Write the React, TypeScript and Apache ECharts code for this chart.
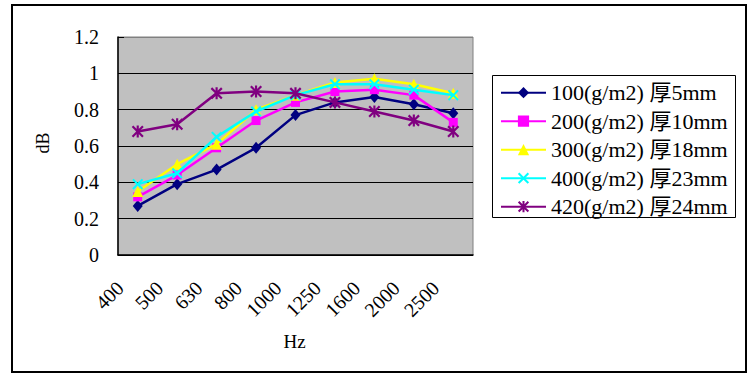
import React, { useEffect, useRef } from "react";
import * as echarts from "echarts";

const categories = ["400", "500", "630", "800", "1000", "1250", "1600", "2000", "2500"];
const seriesNames = [
  "100(g/m2) 厚5mm",
  "200(g/m2) 厚10mm",
  "300(g/m2) 厚18mm",
  "400(g/m2) 厚23mm",
  "420(g/m2) 厚24mm",
];
const s100 = [0.27, 0.39, 0.47, 0.59, 0.77, 0.84, 0.87, 0.83, 0.78];
const s200 = [0.32, 0.44, 0.59, 0.74, 0.84, 0.9, 0.91, 0.88, 0.73];
const s300 = [0.35, 0.5, 0.61, 0.8, 0.88, 0.95, 0.97, 0.94, 0.89];
const s400 = [0.39, 0.45, 0.65, 0.79, 0.88, 0.94, 0.94, 0.91, 0.88];
const s420 = [0.68, 0.72, 0.89, 0.9, 0.89, 0.84, 0.79, 0.74, 0.68];
const yMin = 0;
const yMax = 1.2;
const yStep = 0.2;

const FONT = "'Liberation Serif', 'Noto Sans CJK SC', serif";

const X_PATH =
  "path://M0,1.3 L1.3,0 L5,3.7 L8.7,0 L10,1.3 L6.3,5 L10,8.7 L8.7,10 L5,6.3 L1.3,10 L0,8.7 L3.7,5 Z";
const STAR_PATH =
  X_PATH + " M4.1,0 L5.9,0 L5.9,10 L4.1,10 Z";

export default function App() {
  const ref = useRef<HTMLDivElement>(null);
  useEffect(() => {
    document.body.style.margin = "0";
    if (!ref.current) return;
    const chart = echarts.init(ref.current, null, { renderer: "svg" });
    const dataSets = [s100, s200, s300, s400, s420];
    const colors = ["#000080", "#FF00FF", "#FFFF00", "#00FFFF", "#800080"];
    const symbols = ["diamond", "rect", "triangle", X_PATH, STAR_PATH];
    const sizes: any[] = [[10, 12], 9, 11, 11, 12];
    chart.setOption({
      animation: false,
      backgroundColor: "#FFFFFF",
      textStyle: { fontFamily: FONT, color: "#000" },
      grid: {
        left: 118,
        right: 283,
        top: 37,
        bottom: 130,
        show: true,
        backgroundColor: "#C0C0C0",
        borderColor: "#808080",
        borderWidth: 1,
      },
      legend: {
        orient: "vertical",
        left: 500,
        top: 81.7,
        padding: 0,
        itemWidth: 45,
        itemHeight: 14,
        itemGap: 6.5,
        data: seriesNames,
        textStyle: { fontFamily: FONT, fontSize: 22, color: "#000" },
      },
      xAxis: {
        type: "category",
        data: categories,
        boundaryGap: true,
        axisLine: { lineStyle: { color: "#000", width: 1.5 } },
        axisTick: { inside: true, length: 6, lineStyle: { color: "#000" } },
        axisLabel: {
          interval: 0,
          rotate: 45,
          margin: 12,
          padding: [0, 25, 0, 0],
          fontFamily: FONT,
          fontSize: 20,
          color: "#000",
        },
        splitLine: { show: false },
      },
      yAxis: {
        type: "value",
        min: yMin,
        max: yMax,
        interval: yStep,
        axisLine: { show: true, lineStyle: { color: "#000", width: 1.5 } },
        axisTick: { show: true, inside: true, length: 6, lineStyle: { color: "#000" } },
        axisLabel: { margin: 19, fontFamily: FONT, fontSize: 20, color: "#000" },
        splitLine: {
          show: true,
          lineStyle: {
            color: ["#000", "#000", "#000", "#000", "#000", "#000", "#808080"],
            width: 1,
          },
        },
      },
      series: dataSets.map((d, i) => ({
        name: seriesNames[i],
        type: "line",
        data: d,
        symbol: symbols[i],
        symbolSize: sizes[i],
        lineStyle: { color: colors[i], width: 2.5 },
        itemStyle: { color: colors[i], borderWidth: 0 },
        z: 2 + i,
      })),
      graphic: [
        {
          type: "rect",
          shape: { x: 12, y: 5, width: 734, height: 367 },
          style: { fill: "none", stroke: "#000", lineWidth: 2 },
          z: -10,
          silent: true,
        },
        {
          type: "rect",
          shape: { x: 492.5, y: 75.5, width: 243, height: 142 },
          style: { fill: "#fff", stroke: "#000", lineWidth: 1 },
          z: -5,
          silent: true,
        },
        {
          type: "text",
          x: 43,
          y: 143,
          rotation: Math.PI / 2,
          style: {
            text: "dB",
            fontFamily: FONT,
            fontSize: 18,
            fill: "#000",
            align: "center",
            verticalAlign: "middle",
          },
        },
        {
          type: "text",
          x: 294.5,
          y: 341.5,
          style: {
            text: "Hz",
            fontFamily: FONT,
            fontSize: 19,
            fill: "#000",
            align: "center",
            verticalAlign: "middle",
          },
        },
      ],
    });
    return () => chart.dispose();
  }, []);
  return <div ref={ref} style={{ width: 756, height: 385 }} />;
}
